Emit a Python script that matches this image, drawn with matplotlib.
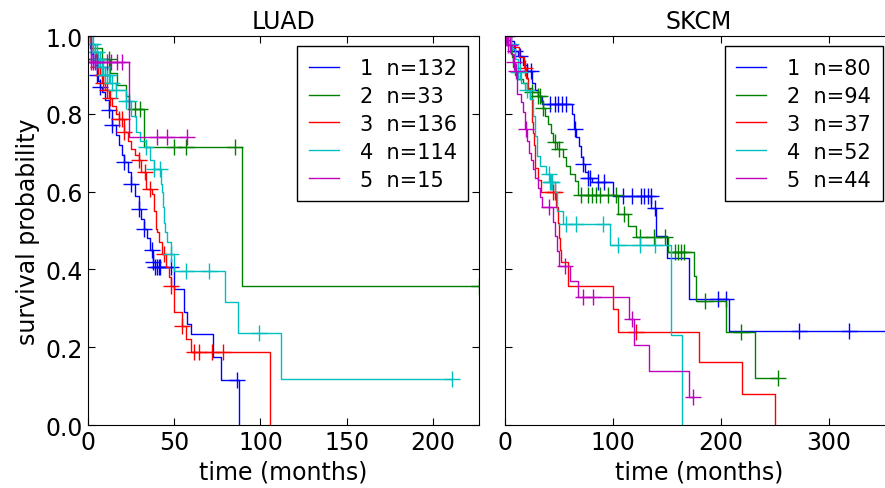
"""
Kaplan-Meier survival curves per cluster, LUAD and SKCM
"""

import numpy as np
import matplotlib
matplotlib.use("Agg")
import matplotlib.pyplot as plt

## LUAD: event times (months), survival after each event, censor times
luad_t1 = [0, 1, 2, 3, 4, 5, 6, 7, 8, 10, 12, 14, 16, 18, 20, 21, 23, 25, 27, 29.5, 31, 32.4, 34, 36, 38, 39,
           49.8, 55.6, 57.5, 59.5, 72.4, 77.4, 87.4]
luad_s1 = [1.0, 0.97, 0.955, 0.94, 0.925, 0.90, 0.885, 0.87, 0.855, 0.835, 0.81, 0.77, 0.745, 0.72, 0.695, 0.676,
           0.65, 0.62, 0.59, 0.555, 0.53, 0.504, 0.48, 0.45, 0.42, 0.405, 0.35, 0.29, 0.26, 0.233, 0.175, 0.117, 0.0]
luad_c1 = [3, 5, 7, 12, 14, 21, 25, 29.5, 32.4, 37, 38, 39, 40, 41, 42, 48, 86.5]

luad_t2 = [0, 2, 8, 13, 17, 22, 24, 32.4, 89.4, 226.6]
luad_s2 = [1.0, 0.97, 0.94, 0.906, 0.875, 0.845, 0.812, 0.714, 0.357, 0.357]
luad_c2 = [12, 27, 30, 50, 56.6, 85.5, 226.6]

luad_t3 = [0, 1, 2, 3, 4.5, 6, 7, 9, 10, 12, 14, 16, 18, 20.8, 23, 25, 27, 29.5, 31, 33.4, 37.3, 38.5, 39.2,
           40, 41, 43, 45, 47, 48, 49.8, 54.7, 57, 59.5, 105.4]
luad_s3 = [1.0, 0.985, 0.97, 0.96, 0.94, 0.92, 0.90, 0.88, 0.86, 0.84, 0.82, 0.80, 0.787, 0.752, 0.73, 0.71,
           0.695, 0.68, 0.65, 0.607, 0.594, 0.55, 0.504, 0.496, 0.47, 0.44, 0.406, 0.38, 0.358, 0.29, 0.255,
           0.22, 0.187, 0.0]
luad_c3 = [5, 6, 8, 9, 11, 13, 18, 19.5, 21, 29.5, 33, 36, 44, 48, 54.7, 61.4, 64.3, 72, 78.2]

luad_t4 = [0, 2, 4, 6, 8, 10, 13, 16, 21.8, 25, 27.6, 30, 33.4, 36, 38.2, 42.1, 43, 43.5, 44, 44.5, 46, 48,
           49.8, 79.7, 87.1, 112, 211.4]
luad_s4 = [1.0, 0.98, 0.96, 0.94, 0.92, 0.90, 0.88, 0.86, 0.834, 0.795, 0.752, 0.73, 0.714, 0.68, 0.658,
           0.62, 0.60, 0.56, 0.52, 0.495, 0.47, 0.44, 0.397, 0.315, 0.236, 0.118, 0.118]
luad_c4 = [2, 3, 4, 5, 6, 7, 8, 9, 10, 11, 12, 14, 16, 21.8, 24, 33.4, 38.2, 42, 48, 56.6, 70, 99, 211.4]

luad_t5 = [0, 1.5, 23.7, 57.5]
luad_s5 = [1.0, 0.933, 0.74, 0.74]
luad_c5 = [2, 3, 4, 5, 11, 13.5, 17, 19.8, 40, 46, 57.5]

## SKCM
skcm_t1 = [0, 5, 8, 12, 16.7, 20, 24.4, 28, 30, 33.7, 61.5, 64, 66, 68, 70, 72, 73.8, 76.9, 80, 100, 135.5,
           140, 150.4, 170.4, 207.4, 360]
skcm_s1 = [1.0, 0.987, 0.962, 0.949, 0.925, 0.91, 0.88, 0.86, 0.845, 0.825, 0.80, 0.76, 0.74, 0.718, 0.69,
           0.67, 0.65, 0.636, 0.624, 0.589, 0.557, 0.487, 0.43, 0.324, 0.242, 0.242]
skcm_c1 = [9, 14, 20, 24, 41.4, 46, 48.8, 52.2, 56.8, 65, 72, 77, 79, 85.8, 92, 109, 118, 126, 129, 132, 135,
           138.6, 197, 205, 272.8, 319]

skcm_t2 = [0, 2, 4, 5, 6, 7.4, 9, 12, 16.7, 20, 24.4, 30, 33, 35, 36.8, 39.8, 42, 44.4, 48, 53.7, 56.8, 60,
           64.5, 67.6, 104.6, 113.9, 121.7, 151, 175, 177, 205, 231.8, 252.8]
skcm_s2 = [1.0, 0.989, 0.978, 0.967, 0.946, 0.92, 0.90, 0.89, 0.878, 0.867, 0.856, 0.845, 0.83, 0.815, 0.795,
           0.774, 0.75, 0.727, 0.71, 0.688, 0.667, 0.645, 0.628, 0.592, 0.542, 0.512, 0.484, 0.444, 0.384,
           0.318, 0.238, 0.12, 0.12]
skcm_c2 = [24.4, 30.6, 32, 35.2, 46, 50, 70.7, 76.9, 80, 84.6, 87.7, 95.4, 103, 110, 125, 138, 148, 157, 160,
           163, 166, 185, 219, 252.8]

skcm_t3 = [0, 5, 13, 17, 19, 21, 23, 24.4, 25, 26, 27, 27.5, 28, 30, 33, 47, 48.5, 50, 51, 52, 58.3, 100,
           104.6, 179.3, 219.8, 250.4]
skcm_s3 = [1.0, 0.973, 0.946, 0.919, 0.892, 0.865, 0.838, 0.81, 0.78, 0.75, 0.72, 0.69, 0.66, 0.63, 0.598,
           0.56, 0.52, 0.48, 0.45, 0.418, 0.358, 0.298, 0.238, 0.161, 0.08, 0.0]
skcm_c3 = [18.5, 44, 46, 121.7]

skcm_t4 = [0, 3, 6, 9, 12, 15, 18.2, 22.9, 26, 27.5, 29, 32, 38, 41.4, 46, 47.6, 53.7, 97, 153.4, 164.2]
skcm_s4 = [1.0, 0.98, 0.967, 0.94, 0.907, 0.88, 0.86, 0.838, 0.795, 0.744, 0.692, 0.667, 0.645, 0.624, 0.598,
           0.551, 0.517, 0.464, 0.232, 0.0]
skcm_c4 = [5, 12, 14, 20, 40.5, 41.4, 42, 43, 56.8, 65.5, 90.7, 104.6, 124.7, 138.6]

skcm_t5 = [0, 3, 5, 7, 9, 10.5, 15, 16.7, 18.2, 20, 22, 24, 26, 28, 30, 32, 33.7, 44.4, 46, 47.6, 50, 59.9,
           67.6, 114.8, 119.4, 133.3, 170.4, 174]
skcm_s5 = [1.0, 0.977, 0.955, 0.932, 0.91, 0.851, 0.83, 0.804, 0.76, 0.73, 0.70, 0.68, 0.658, 0.635, 0.61,
           0.585, 0.56, 0.521, 0.485, 0.448, 0.41, 0.371, 0.328, 0.272, 0.206, 0.138, 0.071, 0.071]
skcm_c5 = [1, 2, 3, 4, 8, 10, 19, 40.7, 55.3, 72.2, 81.5, 118, 174]

luad_n = [132, 33, 136, 114, 15]
skcm_n = [80, 94, 37, 52, 44]
colors = ['b', 'g', 'r', 'c', 'm']


def km_plot(ax, times, survs, censors, ns, title, xmax, xticks):
    for k in range(5):
        t = np.array(times[k])
        s = np.array(survs[k])
        c = np.array(censors[k])
        ax.step(t, s, where='post', color=colors[k], lw=1.0,
                label='%d  n=%d' % (k + 1, ns[k]))
        idx = np.searchsorted(t, c, side='right') - 1
        ax.plot(c, s[idx], '+', color=colors[k], ms=11, mew=1.0)
    ax.set_xlim(0, xmax)
    ax.set_ylim(0, 1)
    ax.set_xticks(xticks)
    ax.set_title(title, fontsize=17)
    ax.set_xlabel('time (months)', fontsize=17)
    ax.tick_params(direction='in', top=True, right=True, labelsize=17, length=5)
    ax.legend(loc='upper right', fontsize=15, fancybox=False, edgecolor='k',
              framealpha=1, handlelength=1.45, handletextpad=1.0,
              borderpad=0.55, borderaxespad=0.5)


plt.rcParams['font.family'] = 'DejaVu Sans'
plt.rcParams['legend.labelspacing'] = 0.38
fig = plt.figure(figsize=(8.85, 4.89), dpi=100)
ax1 = fig.add_axes([0.0994, 0.1288, 0.4415, 0.7955])
ax2 = fig.add_axes([0.5709, 0.1288, 0.4381, 0.7955])

km_plot(ax1, [luad_t1, luad_t2, luad_t3, luad_t4, luad_t5],
        [luad_s1, luad_s2, luad_s3, luad_s4, luad_s5],
        [luad_c1, luad_c2, luad_c3, luad_c4, luad_c5],
        luad_n, 'LUAD', 226.6, [0, 50, 100, 150, 200])
km_plot(ax2, [skcm_t1, skcm_t2, skcm_t3, skcm_t4, skcm_t5],
        [skcm_s1, skcm_s2, skcm_s3, skcm_s4, skcm_s5],
        [skcm_c1, skcm_c2, skcm_c3, skcm_c4, skcm_c5],
        skcm_n, 'SKCM', 359.6, [0, 100, 200, 300])

ax1.set_ylabel('survival probability', fontsize=17)
ax1.set_yticks([0, 0.2, 0.4, 0.6, 0.8, 1.0])
ax2.set_yticks([0, 0.2, 0.4, 0.6, 0.8, 1.0])
ax2.set_yticklabels([])

fig.savefig('out.png', dpi=100)
